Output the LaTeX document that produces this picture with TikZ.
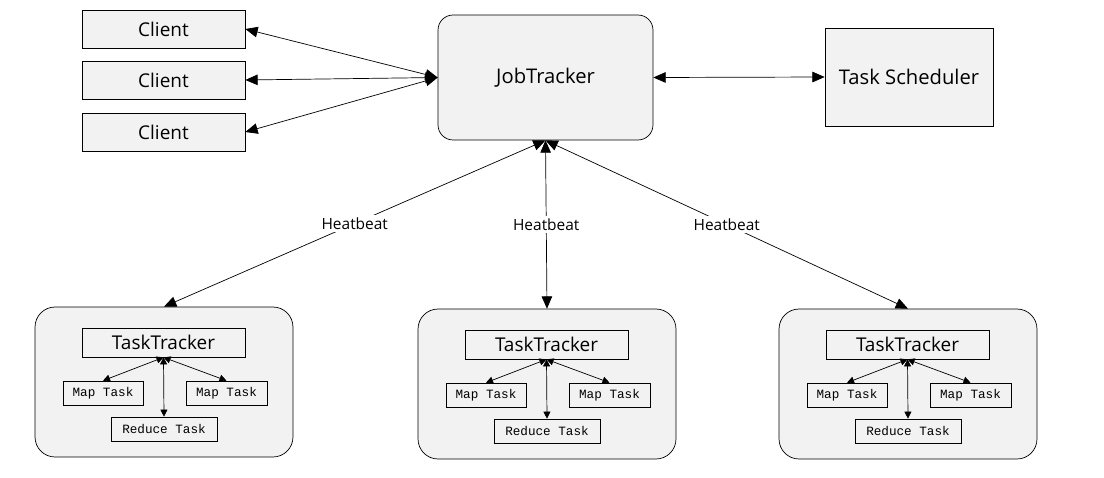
\documentclass[tikz,border=0pt]{standalone}
\usepackage{fontspec}
\setmainfont{Open Sans}
\newfontfamily\codefont{Liberation Mono}
\usetikzlibrary{arrows.meta}

\tikzset{
  box/.style={draw, fill=black!5, inner sep=0pt},
  tracker/.style={box, rounded corners=0.4cm, minimum width=5.16cm, minimum height=3cm},
  task/.style={box, minimum height=0.48cm, font=\codefont\fontsize{7.2}{8}\selectfont},
  biarrow/.style={{Triangle[length=7pt,width=6pt]}-{Triangle[length=7pt,width=6pt]}, thin},
  smallarrow/.style={{Triangle[length=4pt,width=4pt]}-{Triangle[length=4pt,width=4pt]}, thin},
  beat/.style={fill=white, inner sep=1.5pt, font=\fontsize{8.8}{10}\selectfont},
  big/.style={font=\fontsize{11.5}{13}\selectfont}
}

\begin{document}
\begin{tikzpicture}[x=0.02cm, y=-0.02cm, font=\fontsize{10.8}{12}\selectfont]
    \useasboundingbox (0,0) rectangle (1104,477);

    % Clients
    \node[box, minimum width=3.26cm, minimum height=0.76cm] (c1) at (163.5,29) {Client};
    \node[box, minimum width=3.26cm, minimum height=0.76cm] (c2) at (163.5,80) {Client};
    \node[box, minimum width=3.26cm, minimum height=0.76cm] (c3) at (163.5,132) {Client};

    % Top row
    \node[box, big, rounded corners=0.3cm, minimum width=4.3cm, minimum height=2.5cm] (jt) at (545.5,77.5) {JobTracker};
    \node[box, big, minimum width=3.36cm, minimum height=1.96cm] (ts) at (909,77) {Task Scheduler};

    % Task trackers
    \foreach \i/\dx/\dy in {1/0/0, 2/383/2, 3/744/2} {
      \begin{scope}[shift={(\dx,\dy)}]
        \node[tracker] (tr\i) at (164,382) {};
        \node[box, minimum width=3.26cm, minimum height=0.58cm] (tt\i) at (163.5,342.5) {TaskTracker};
        \node[task, minimum width=1.6cm] (ma\i) at (103,393) {Map Task};
        \node[task, minimum width=1.62cm] (mb\i) at (226.5,393) {Map Task};
        \node[task, minimum width=2.12cm] (rt\i) at (164,429) {Reduce Task};
      \end{scope}
      \draw[smallarrow] (tt\i.south) -- (ma\i.north);
      \draw[smallarrow] (tt\i.south) -- (mb\i.north);
      \draw[smallarrow] (tt\i.south) -- (rt\i.north);
      \draw[biarrow] (jt.south) -- node[beat] {Heatbeat} (tr\i.north);
    }

    % Edges
    \draw[biarrow] (jt.west) -- (c1.east);
    \draw[biarrow] (jt.west) -- (c2.east);
    \draw[biarrow] (jt.west) -- (c3.east);
    \draw[biarrow] (jt.east) -- (ts.west);

\end{tikzpicture}
\end{document}
